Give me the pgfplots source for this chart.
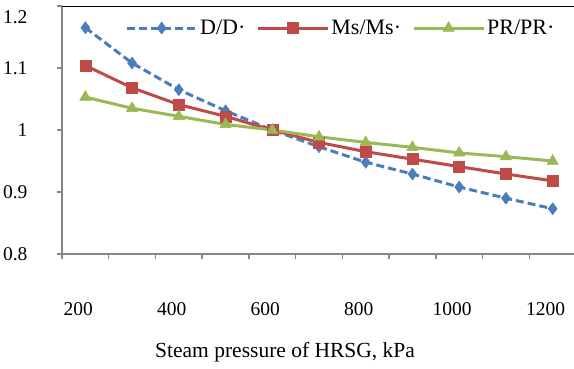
\documentclass[border=0pt]{standalone}
\usepackage{fontspec}
\setmainfont{Liberation Serif}
\usepackage{pgfplots}
\pgfplotsset{compat=1.18}
\definecolor{cblue}{HTML}{4A7EBB}
\definecolor{cred}{HTML}{BE4B48}
\definecolor{cgreen}{HTML}{98B954}
\definecolor{cgray}{HTML}{878787}
\begin{document}
\begin{tikzpicture}
\clip (0,0) rectangle (574bp,369bp);
\begin{axis}[
  at={(62bp,115bp)}, anchor=south west,
  scale only axis, width=514bp, height=248bp,
  xmin=150, xmax=1250, ymin=0.8, ymax=1.2,
  axis x line*=bottom, axis y line*=left,
  axis line style={cgray, line width=2bp, -},
  xtick={150,250,...,1250}, xticklabels={},
  ytick={0.8,0.9,1.0,1.1}, yticklabels={0.8,0.9,1,1.1},
  extra y ticks={1.2}, extra y tick labels={1.2},
  extra y tick style={yticklabel style={yshift=-11bp}},
  extra x ticks={200,400,600,800,1000,1200},
  extra x tick labels={200,400,600,800,1000,1200},
  extra x tick style={major tick length=0pt, xticklabel style={xshift=-7bp, yshift=-45bp}},
  tick align=outside, major tick length=5bp,
  tick style={cgray, line width=1.5bp},
  /pgf/number format/assume math mode=true,
  ticklabel style={font=\fontsize{19.5bp}{22bp}\selectfont},
  yticklabel style={xshift=-26bp},
  xlabel={Steam pressure of HRSG, kPa},
  xlabel style={font=\fontsize{21.5bp}{24bp}\selectfont, at={(axis description cs:0.434,0)}, anchor=center, yshift=-98bp},
  legend columns=3,
  legend style={at={(0.1226,0.911)}, anchor=west, draw=none, fill=none, inner sep=0pt,
    font=\fontsize{22bp}{24bp}\selectfont,
    /tikz/every even column/.append style={column sep=9bp},
    nodes={inner sep=2bp}},
  legend image code/.code={\draw[mark repeat=2,mark phase=2] plot coordinates {(0bp,0bp)(35bp,0bp)(70bp,0bp)};},
]
\addplot[cblue, line width=3bp, dash pattern=on 8bp off 4bp, mark=diamond*, mark size=6bp, mark options={solid, fill=cblue, draw=cblue, line width=0.5bp}]
  coordinates {(200,1.165)(300,1.108)(400,1.065)(500,1.031)(600,1.000)(700,0.973)(800,0.948)(900,0.929)(1000,0.908)(1100,0.890)(1200,0.873)};
\addlegendentry{D/D·}
\addplot[cred, line width=3bp, mark=square*, mark size=5.5bp, mark options={solid, fill=cred, draw=cred, line width=0.5bp}]
  coordinates {(200,1.104)(300,1.068)(400,1.041)(500,1.022)(600,1.000)(700,0.980)(800,0.965)(900,0.953)(1000,0.941)(1100,0.929)(1200,0.918)};
\addlegendentry{Ms/Ms·}
\addplot[cgreen, line width=3bp, mark=triangle*, mark size=6.5bp, mark options={solid, fill=cgreen, draw=cgreen, line width=0.5bp}]
  coordinates {(200,1.053)(300,1.035)(400,1.022)(500,1.009)(600,1.000)(700,0.989)(800,0.980)(900,0.972)(1000,0.963)(1100,0.957)(1200,0.950)};
\addlegendentry{PR/PR·}
\draw[black, line width=1.2bp] (axis cs:150,1.2) -- (axis cs:1250,1.2);
\end{axis}
\end{tikzpicture}
\end{document}
